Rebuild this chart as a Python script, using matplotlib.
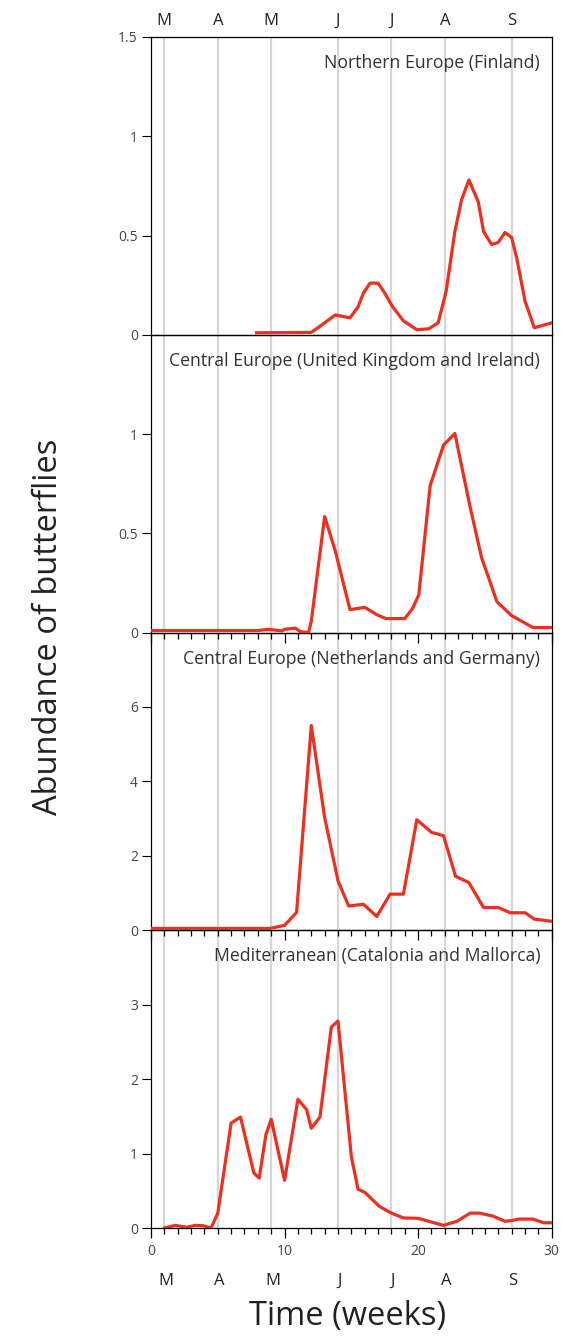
import matplotlib
matplotlib.use("Agg")
import matplotlib.pyplot as plt
from matplotlib.ticker import MultipleLocator

plt.rcParams["font.family"] = ["Open Sans", "DejaVu Sans"]

# month boundaries (weeks) and their initials
month_weeks = [1, 5, 9, 14, 18, 22, 27]
month_names = ["M", "A", "M", "J", "J", "A", "S"]

# Northern Europe (Finland)
fin_x = [7.9, 12.0, 12.8, 13.8, 14.9, 15.5, 15.9, 16.4, 17.0, 17.5, 18.1, 18.9, 19.9, 20.8,
         21.5, 22.1, 22.75, 23.25, 23.8, 24.5, 24.9, 25.5, 26.0, 26.5, 27.0, 27.4, 28.0, 28.7, 30.0]
fin_y = [0.01, 0.012, 0.05, 0.10, 0.085, 0.14, 0.21, 0.26, 0.26, 0.21, 0.14, 0.07, 0.025, 0.03,
         0.06, 0.22, 0.52, 0.68, 0.78, 0.67, 0.52, 0.455, 0.465, 0.515, 0.49, 0.38, 0.17, 0.035, 0.06]

# Central Europe (United Kingdom and Ireland)
uk_x = [0, 8.0, 8.8, 9.8, 10.0, 10.8, 11.2, 11.8, 12.0, 13.0, 13.8, 14.9, 16.0, 16.9, 17.6,
        19.0, 19.6, 20.05, 20.9, 21.9, 22.75, 23.9, 24.75, 25.9, 27.0, 28.6, 30.0]
uk_y = [0.01, 0.01, 0.016, 0.008, 0.016, 0.022, 0.004, 0.0, 0.056, 0.584, 0.41, 0.115, 0.127, 0.09, 0.07,
        0.07, 0.123, 0.19, 0.74, 0.944, 1.003, 0.63, 0.377, 0.155, 0.085, 0.025, 0.025]

# Central Europe (Netherlands and Germany)
nl_x = [0, 8.9, 10.0, 10.9, 12.0, 13.0, 14.0, 14.8, 15.9, 16.9, 17.9, 18.9, 19.9, 21.0, 21.9,
        22.8, 23.8, 24.9, 26.0, 26.9, 28.0, 28.7, 30.0]
nl_y = [0.05, 0.05, 0.13, 0.48, 5.5, 3.03, 1.33, 0.65, 0.70, 0.37, 0.97, 0.97, 2.97, 2.63, 2.54,
        1.45, 1.28, 0.61, 0.61, 0.47, 0.47, 0.30, 0.24]

# Mediterranean (Catalonia and Mallorca)
med_x = [1.0, 1.8, 2.7, 3.3, 3.9, 4.5, 5.0, 6.0, 6.7, 7.7, 8.1, 8.6, 9.0, 10.0, 11.0, 11.65,
         12.0, 12.65, 13.5, 14.0, 15.0, 15.5, 16.0, 17.1, 18.0, 18.9, 20.0, 21.9, 22.9, 23.9,
         24.6, 25.6, 26.5, 27.0, 27.5, 28.6, 29.4, 30.0]
med_y = [0.0, 0.035, 0.01, 0.035, 0.03, 0.0, 0.2, 1.41, 1.49, 0.74, 0.67, 1.25, 1.46, 0.64, 1.73, 1.59,
         1.34, 1.49, 2.70, 2.78, 0.96, 0.52, 0.48, 0.29, 0.2, 0.135, 0.13, 0.035, 0.09, 0.2,
         0.2, 0.16, 0.09, 0.1, 0.12, 0.12, 0.07, 0.07]

titles = ["Northern Europe (Finland)",
          "Central Europe (United Kingdom and Ireland)",
          "Central Europe (Netherlands and Germany)",
          "Mediterranean (Catalonia and Mallorca)"]
series = [(fin_x, fin_y), (uk_x, uk_y), (nl_x, nl_y), (med_x, med_y)]
ylims = [1.5, 1.5, 8, 4]
yticks = [[0, 0.5, 1, 1.5], [0, 0.5, 1], [0, 2, 4, 6], [0, 1, 2, 3]]
ytick_labels = [["0", "0.5", "1", "1.5"], ["0", "0.5", "1"], ["0", "2", "4", "6"], ["0", "1", "2", "3"]]

W, H = 563, 1336
fig = plt.figure(figsize=(W / 100, H / 100), dpi=100)
fig.patch.set_facecolor("white")

left_px, right_px = 151, 551.7
top_px, panel_h = 37, 297.75
red = "#ec2f1f"
grey_txt = "#333333"

axes = []
for i in range(4):
    bottom = 1 - (top_px + (i + 1) * panel_h) / H
    ax = fig.add_axes([left_px / W, bottom, (right_px - left_px) / W, panel_h / H])
    ax.patch.set_alpha(0)   # let the ticks of the panel above show through
    ax.set_zorder(10 - i)
    axes.append(ax)
    for w in month_weeks:
        ax.axvline(w, color="#d6d6d6", lw=1.6, zorder=1)
    x, y = series[i]
    ax.plot(x, y, color=red, lw=2.3, zorder=3, solid_joinstyle="round")
    ax.set_xlim(0, 30)
    ax.set_ylim(0, ylims[i])
    ax.set_yticks(yticks[i])
    ax.set_yticklabels(ytick_labels[i])
    ax.tick_params(axis="y", direction="out", length=6.5, width=0.8, pad=3,
                   labelsize=10, labelcolor="#444444")
    ax.xaxis.set_major_locator(MultipleLocator(10))
    ax.xaxis.set_minor_locator(MultipleLocator(1))
    if i == 0:
        ax.tick_params(axis="x", which="both", length=0, labelbottom=False)
    else:
        ax.tick_params(axis="x", which="major", direction="out", length=7.5, width=0.9)
        ax.tick_params(axis="x", which="minor", direction="out", length=4.5, width=0.9,
                       color="black")
        ax.tick_params(axis="x", labelbottom=(i == 3), labelsize=10, labelcolor="#444444", pad=4)
    for s in ax.spines.values():
        s.set_linewidth(0.9)
        s.set_zorder(2)
    ax.text(0.971, 1 - 26 / panel_h, titles[i], transform=ax.transAxes, ha="right",
            va="center", fontsize=12.7, color=grey_txt)

# month initials above the top panel and below the bottom panel
for w, m in zip(month_weeks, month_names):
    axes[0].text(w, 1 + (top_px - 21) / panel_h, m, transform=axes[0].get_xaxis_transform(),
                 ha="center", va="center", fontsize=12, color="#222222")
    axes[3].text(w + 0.1, -(1281 - 1228) / panel_h, m, transform=axes[3].get_xaxis_transform(),
                 ha="center", va="center", fontsize=12, color="#222222")

fig.text(348 / W, 1 - 1317 / H, "Time (weeks)", ha="center", va="center", fontsize=23.5, color="#222222")
fig.text(49 / W, 1 - 627 / H, "Abundance of butterflies", ha="center", va="center",
         rotation=90, fontsize=23.5, color="#222222")

fig.savefig("out.png", dpi=100)
